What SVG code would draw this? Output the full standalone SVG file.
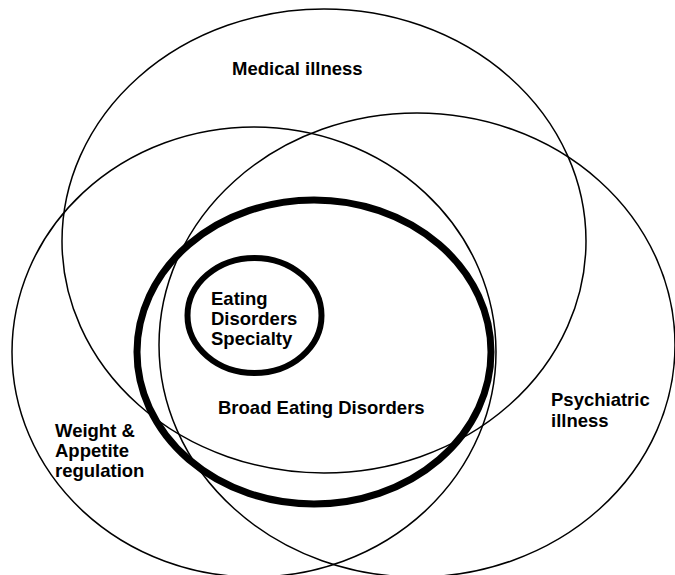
<svg xmlns="http://www.w3.org/2000/svg" width="675" height="575" viewBox="0 0 675 575">
<style>
.thin{fill:none;stroke:#000;stroke-width:1.5}
.thick{fill:none;stroke:#000;stroke-width:7}
.lbl{font-family:"Liberation Sans",Arial,sans-serif;font-weight:bold;font-size:18.5px;fill:#000}
</style>
<rect width="675" height="575" fill="#fff"/>
<g id="medical-illness">
<ellipse class="thin" cx="324" cy="241" rx="262" ry="232"/>
<text class="lbl" x="232" y="75">Medical illness</text>
</g>
<g id="weight-appetite">
<ellipse class="thin" cx="254" cy="352" rx="242" ry="225"/>
<text class="lbl" x="55" y="437">Weight &amp;</text>
<text class="lbl" x="55" y="457">Appetite</text>
<text class="lbl" x="55" y="477">regulation</text>
</g>
<g id="psychiatric-illness">
<ellipse class="thin" cx="417" cy="345" rx="258" ry="232"/>
<text class="lbl" x="551" y="406">Psychiatric</text>
<text class="lbl" x="551" y="427">illness</text>
</g>
<g id="broad-eating-disorders">
<ellipse class="thick" cx="314" cy="352" rx="177" ry="152"/>
<text class="lbl" x="218" y="414">Broad Eating Disorders</text>
</g>
<g id="eating-disorders-specialty">
<ellipse class="thick" cx="254.5" cy="315.5" rx="67" ry="57.5" style="stroke-width:6"/>
<text class="lbl" x="211" y="305">Eating</text>
<text class="lbl" x="211" y="325">Disorders</text>
<text class="lbl" x="211" y="345">Specialty</text>
</g>
<g id="connectors"/>
</svg>
